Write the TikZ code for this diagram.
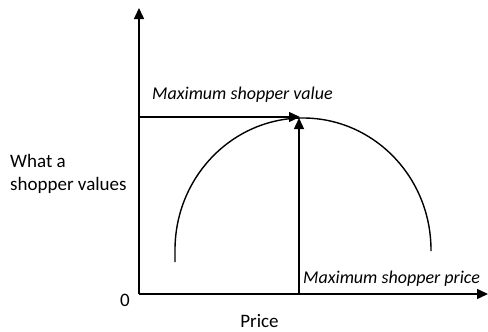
\documentclass[tikz,border=0pt]{standalone}
\usepackage{fontspec}
\setmainfont{Carlito}
\usetikzlibrary{arrows.meta}
\begin{document}
\begin{tikzpicture}[x=1pt,y=-1pt,
  axis/.style={line width=1.6pt,-{Triangle[length=11pt,width=10pt]}},
  guide/.style={line width=1.4pt,-{Triangle[length=11pt,width=10pt]}},
  lbl/.style={font=\fontsize{19}{23}\selectfont,inner sep=0pt},
  ilbl/.style={font=\fontsize{18}{22}\selectfont\itshape,inner sep=0pt}]
\useasboundingbox (0,0) rectangle (488,332);
\coordinate (O) at (139,294);
\coordinate (ytop) at (139,8);
\coordinate (xend) at (488,294);
\coordinate (vl) at (139,117);
\coordinate (peakL) at (300,117);
\coordinate (base) at (299,294);
\coordinate (peak) at (299,118);
\draw[axis] (O) -- (ytop);
\draw[axis] (O) -- (xend);
\draw[guide] (vl) -- (peakL);
\draw[guide] (base) -- (peak);
\draw[line width=1.4pt] (175,262) -- (175,250) arc[start angle=180,end angle=0,x radius=128,y radius=-132] -- (431,251);
\node[ilbl,anchor=base west] (mv) at (152,99) {Maximum shopper value};
\node[ilbl,anchor=base west] (mp) at (303,283) {Maximum shopper price};
\node[lbl,anchor=base west] (w1) at (10,167) {What a};
\node[lbl,anchor=base west] (w2) at (10,190) {shopper values};
\node[lbl,anchor=base] (zero) at (125,306) {0};
\node[lbl,anchor=base] (price) at (259.5,327) {Price};
\end{tikzpicture}
\end{document}
